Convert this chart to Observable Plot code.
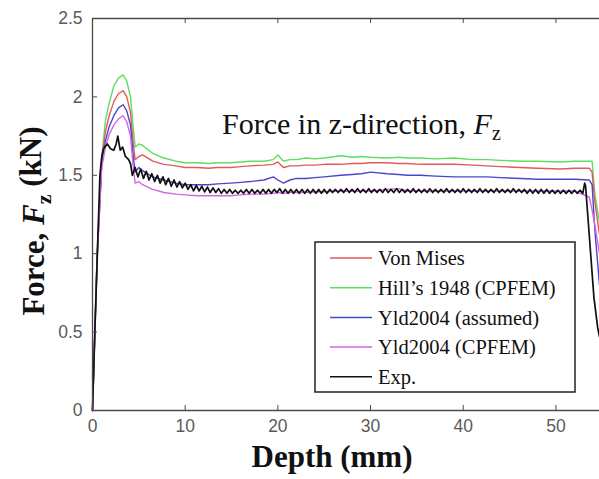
<!DOCTYPE html>
<html>
<head>
<meta charset="utf-8">
<script src="https://cdn.jsdelivr.net/npm/d3@7"></script>
<script src="https://cdn.jsdelivr.net/npm/@observablehq/plot@0.6"></script>
<style>
  body { margin: 0; background: #fff; }
</style>
</head>
<body>
<div id="chart"></div>
<script>
// Indentation force F_z (kN) against depth (mm) for four yield models and the experiment.
const seriesNames = ["Von Mises", "Hill\u2019s 1948 (CPFEM)", "Yld2004 (assumed)", "Yld2004 (CPFEM)", "Exp."];
const seriesColors = ["#e25a5a", "#5ede5e", "#4848c6", "#d266e4", "#111111"];
const xTicks = [0, 10, 20, 30, 40, 50];
const yTicks = [0, 0.5, 1, 1.5, 2, 2.5];

// Depth stations shared by the simulated curves
const modelDepth = [0, 0.5, 1.0, 1.4, 1.8, 2.3, 2.8, 3.3, 3.7, 4.1, 4.4, 4.6, 5.0, 5.4, 6.5, 7.7, 9, 10, 11.3, 12.5,
  13.5, 14.9, 16, 17, 18.5, 19.5, 20, 20.6, 21.3, 22, 23, 24, 25, 26.8, 28, 29, 30, 31.8, 33, 34,
  35.4, 37, 39, 41, 42.6, 44, 46.2, 48, 50.5, 52, 53.6, 53.9, 54.2, 54.7];

const vonMises = [0, 0.98, 1.60, 1.78, 1.88, 1.97, 2.02, 2.04, 2.00, 1.90, 1.70, 1.60, 1.62, 1.63, 1.59, 1.57, 1.56, 1.55, 1.55, 1.545,
  1.55, 1.55, 1.555, 1.56, 1.565, 1.57, 1.585, 1.55, 1.56, 1.56, 1.565, 1.565, 1.57, 1.57, 1.575, 1.575, 1.58, 1.58, 1.575, 1.575,
  1.57, 1.57, 1.57, 1.565, 1.56, 1.555, 1.55, 1.545, 1.54, 1.545, 1.545, 1.52, 1.33, 1.12];

const hill1948 = [0, 1.0, 1.62, 1.85, 1.96, 2.07, 2.12, 2.14, 2.10, 2.00, 1.80, 1.68, 1.70, 1.69, 1.64, 1.61, 1.59, 1.58, 1.58, 1.575,
  1.58, 1.58, 1.585, 1.59, 1.59, 1.60, 1.63, 1.59, 1.60, 1.60, 1.61, 1.605, 1.61, 1.625, 1.615, 1.62, 1.615, 1.61, 1.615, 1.61,
  1.61, 1.605, 1.61, 1.60, 1.60, 1.595, 1.59, 1.59, 1.585, 1.59, 1.59, 1.59, 1.38, 1.20];

const yldAssumed = [0, 0.97, 1.58, 1.72, 1.81, 1.88, 1.93, 1.95, 1.91, 1.82, 1.62, 1.52, 1.55, 1.53, 1.49, 1.47, 1.45, 1.44, 1.44, 1.44,
  1.445, 1.45, 1.455, 1.46, 1.47, 1.49, 1.47, 1.45, 1.47, 1.48, 1.48, 1.485, 1.49, 1.50, 1.505, 1.51, 1.52, 1.51, 1.505, 1.50,
  1.50, 1.495, 1.49, 1.49, 1.49, 1.485, 1.48, 1.475, 1.475, 1.475, 1.47, 1.44, 1.15, 0.80];

const yldCpfem = [0, 0.96, 1.55, 1.68, 1.76, 1.82, 1.86, 1.88, 1.84, 1.75, 1.55, 1.45, 1.46, 1.44, 1.41, 1.39, 1.38, 1.375, 1.37, 1.37,
  1.37, 1.37, 1.375, 1.38, 1.38, 1.385, 1.39, 1.385, 1.39, 1.39, 1.39, 1.395, 1.395, 1.40, 1.40, 1.40, 1.40, 1.41, 1.415, 1.40,
  1.40, 1.40, 1.40, 1.40, 1.40, 1.40, 1.40, 1.40, 1.40, 1.40, 1.36, 1.28, 1.18, 1.00];

// Measured force, [depth, force] pairs
const expPoints = [
  [0, 0], [0.25, 0.5], [0.55, 1.05], [0.8, 1.5], [1.0, 1.62], [1.2, 1.67], [1.6, 1.70], [1.95, 1.67], [2.3, 1.66],
  [2.55, 1.70], [2.73, 1.75], [2.9, 1.69], [3.0, 1.66], [3.25, 1.68], [3.55, 1.62], [3.9, 1.60], [4.1, 1.575],
  [4.3, 1.50], [4.6, 1.55], [4.9, 1.49], [5.2, 1.54], [5.5, 1.48], [5.8, 1.525], [6.1, 1.47], [6.4, 1.51],
  [6.7, 1.46], [7.0, 1.50], [7.3, 1.45], [7.6, 1.49], [7.9, 1.44], [8.2, 1.48], [8.5, 1.43], [8.8, 1.47],
  [9.1, 1.425], [9.4, 1.46], [9.7, 1.42], [10.0, 1.45], [10.3, 1.41], [10.6, 1.44], [10.9, 1.40], [11.2, 1.435],
  [11.5, 1.40], [11.8, 1.43], [12.1, 1.395], [12.4, 1.425], [12.7, 1.39], [13.0, 1.42], [13.3, 1.39], [13.6, 1.415],
  [13.9, 1.385], [14.2, 1.41], [14.5, 1.385], [14.8, 1.41], [15.1, 1.385], [15.4, 1.405], [15.7, 1.385], [16.0, 1.405],
  [16.3, 1.385], [16.6, 1.41], [16.9, 1.385], [17.2, 1.41], [17.5, 1.385], [17.8, 1.405], [18.1, 1.385], [18.4, 1.41],
  [18.7, 1.385], [19.0, 1.41], [19.3, 1.385], [19.6, 1.41], [19.9, 1.39], [20.2, 1.415], [20.5, 1.385], [20.8, 1.41],
  [21.1, 1.385], [21.4, 1.41], [21.7, 1.385], [22.0, 1.41], [22.3, 1.385], [22.6, 1.41], [22.9, 1.385], [23.2, 1.41],
  [23.5, 1.385], [23.8, 1.41], [24.1, 1.385], [24.4, 1.41], [24.7, 1.385], [25.0, 1.41], [25.3, 1.385], [25.6, 1.41],
  [25.9, 1.39], [26.2, 1.41], [26.5, 1.39], [26.8, 1.41], [27.1, 1.39], [27.4, 1.415], [27.7, 1.39], [28.0, 1.41],
  [28.3, 1.39], [28.6, 1.415], [28.9, 1.39], [29.2, 1.41], [29.5, 1.39], [29.8, 1.415], [30.1, 1.39], [30.4, 1.41],
  [30.7, 1.39], [31.0, 1.41], [31.3, 1.39], [31.6, 1.415], [31.9, 1.39], [32.2, 1.41], [32.5, 1.39], [32.8, 1.415],
  [33.1, 1.39], [33.4, 1.41], [33.7, 1.39], [34.0, 1.41], [34.3, 1.39], [34.6, 1.415], [34.9, 1.39], [35.2, 1.41],
  [35.5, 1.39], [35.8, 1.41], [36.1, 1.39], [36.4, 1.415], [36.7, 1.39], [37.0, 1.41], [37.3, 1.39], [37.6, 1.41],
  [37.9, 1.39], [38.2, 1.415], [38.5, 1.39], [38.8, 1.41], [39.1, 1.39], [39.4, 1.41], [39.7, 1.39], [40.0, 1.415],
  [40.3, 1.39], [40.6, 1.41], [40.9, 1.39], [41.2, 1.41], [41.5, 1.39], [41.8, 1.415], [42.1, 1.39], [42.4, 1.41],
  [42.7, 1.39], [43.0, 1.41], [43.3, 1.39], [43.6, 1.415], [43.9, 1.39], [44.2, 1.41], [44.5, 1.39], [44.8, 1.41],
  [45.1, 1.39], [45.4, 1.415], [45.7, 1.39], [46.0, 1.41], [46.3, 1.39], [46.6, 1.41], [46.9, 1.385], [47.2, 1.41],
  [47.5, 1.385], [47.8, 1.41], [48.1, 1.385], [48.4, 1.41], [48.7, 1.385], [49.0, 1.41], [49.3, 1.385], [49.6, 1.405],
  [49.9, 1.385], [50.2, 1.405], [50.5, 1.385], [50.8, 1.405], [51.1, 1.385], [51.4, 1.405], [51.7, 1.385], [52.0, 1.405],
  [52.3, 1.385], [52.6, 1.405], [52.9, 1.385], [53.1, 1.45], [53.2, 1.43], [54.1, 0.72], [54.5, 0.53], [54.7, 0.47]
];

const models = [
  {name: seriesNames[1], values: hill1948},
  {name: seriesNames[0], values: vonMises},
  {name: seriesNames[2], values: yldAssumed},
  {name: seriesNames[3], values: yldCpfem}
];
const modelRows = models.flatMap(m => modelDepth.map((d, i) => ({depth: d, force: m.values[i], series: m.name})));
const expRows = expPoints.map(([d, f]) => ({depth: d, force: f, series: seriesNames[4]}));

const fmt = d => `${d}`;
const axisColor = "#4a4a4a";
const W = 599, H = 479, mL = 92, mR = 0, mT = 18, mB = 69;
const tickLen = 5;

const chart = Plot.plot({
  width: W,
  height: H,
  marginLeft: mL,
  marginRight: mR,
  marginTop: mT,
  marginBottom: mB,
  style: {fontFamily: "'Liberation Sans', Arial, sans-serif", fontSize: "17.5px", color: "#5a5a5a", background: "#fff"},
  x: {domain: [0, 54.7]},
  y: {domain: [0, 2.5]},
  color: {domain: seriesNames, range: seriesColors},
  marks: [
    Plot.line(modelRows, {x: "depth", y: "force", z: "series", stroke: "series", strokeWidth: 1.4}),
    Plot.line(expRows, {x: "depth", y: "force", stroke: "series", strokeWidth: 1.7}),
    // box edges (left, bottom, top)
    Plot.ruleX([0], {stroke: axisColor, strokeWidth: 1.3}),
    Plot.ruleY([0, 2.5], {stroke: axisColor, strokeWidth: 1.3}),
    // inward tick marks on the bottom, top and left edges
    Plot.ruleX(xTicks, {stroke: axisColor, insetTop: H - mT - mB - tickLen}),
    Plot.ruleX(xTicks, {stroke: axisColor, insetBottom: H - mT - mB - tickLen}),
    Plot.ruleY(yTicks, {stroke: axisColor, insetRight: W - mL - mR - tickLen}),
    // tick labels
    Plot.axisX(xTicks, {tickSize: 0, tickPadding: 9, tickFormat: fmt, label: null}),
    Plot.axisY(yTicks, {tickSize: 0, tickPadding: 10, tickFormat: fmt, label: null})
  ]
});

document.getElementById("chart").appendChild(chart);

const svg = d3.select(chart);
const serif = "'Liberation Serif', 'Times New Roman', serif";

// Axis titles
svg.append("text")
  .attr("x", 332).attr("y", 467)
  .attr("text-anchor", "middle")
  .attr("font-family", serif).attr("font-weight", "bold").attr("font-size", 31).attr("fill", "#111")
  .text("Depth (mm)");

const yTitle = svg.append("text")
  .attr("transform", "translate(44,221) rotate(-90)")
  .attr("text-anchor", "middle")
  .attr("font-family", serif).attr("font-weight", "bold").attr("font-size", 31).attr("fill", "#111");
yTitle.append("tspan").text("Force, ");
yTitle.append("tspan").attr("font-style", "italic").text("F");
yTitle.append("tspan").attr("font-size", 22).attr("dy", "0.3em").text("z");
yTitle.append("tspan").attr("dy", "-0.3em").text(" (kN)");

// Annotation inside the axes
const note = svg.append("text")
  .attr("x", 222).attr("y", 134)
  .attr("text-anchor", "start")
  .attr("font-family", serif).attr("font-size", 30).attr("fill", "#111");
note.append("tspan").text("Force in z-direction, ");
note.append("tspan").attr("font-style", "italic").text("F");
note.append("tspan").attr("font-size", 20).attr("dy", "0.3em").text("z");

// Boxed legend
const legend = svg.append("g").attr("text-anchor", "start");
legend.append("rect")
  .attr("x", 315).attr("y", 242).attr("width", 260).attr("height", 150)
  .attr("fill", "#fff").attr("stroke", "#222").attr("stroke-width", 1.5);
seriesNames.forEach((name, i) => {
  const cy = 258 + i * 29.7;
  legend.append("line")
    .attr("x1", 330).attr("x2", 372).attr("y1", cy).attr("y2", cy)
    .attr("stroke", seriesColors[i]).attr("stroke-width", 1.5);
  legend.append("text")
    .attr("x", 378).attr("y", cy).attr("dy", "0.35em")
    .attr("text-anchor", "start")
    .attr("font-family", serif).attr("font-size", 20.5).attr("fill", "#111")
    .text(name);
});
</script>
</body>
</html>
